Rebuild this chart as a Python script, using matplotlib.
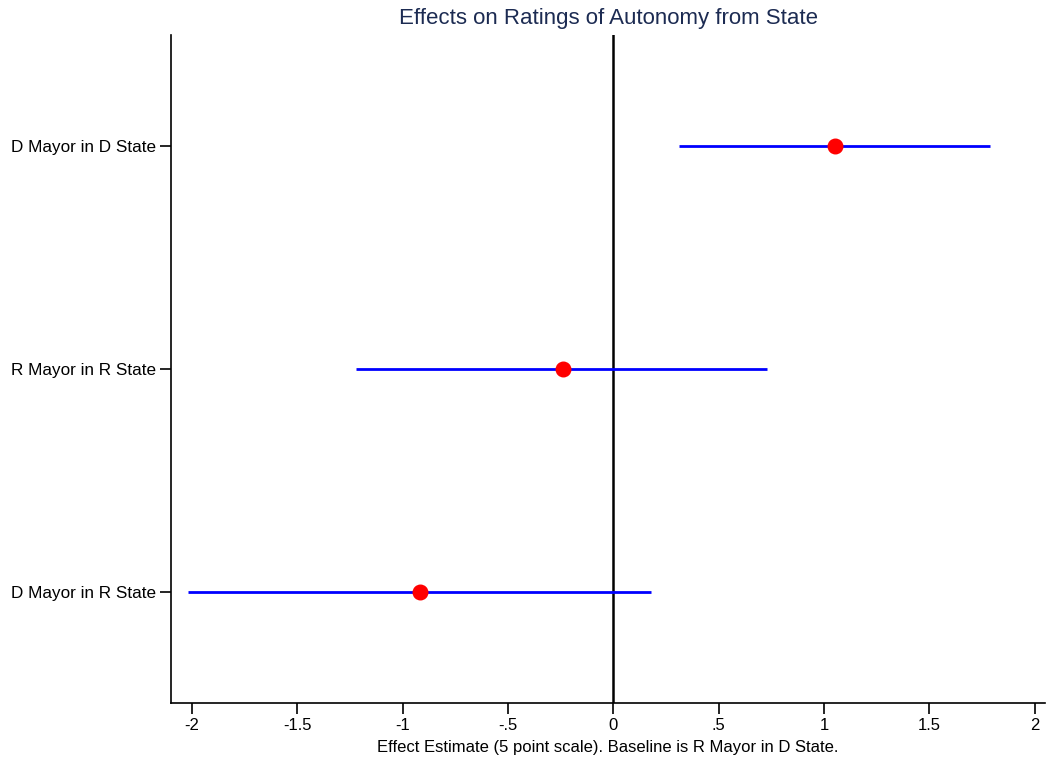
import matplotlib
matplotlib.use("Agg")
import matplotlib.pyplot as plt

plt.rcParams['font.family'] = ['Liberation Sans', 'DejaVu Sans']

# data
labels = ["D Mayor in R State", "R Mayor in R State", "D Mayor in D State"]
estimates = [-0.92, -0.24, 1.05]
ci_low = [-2.02, -1.22, 0.31]
ci_high = [0.18, 0.73, 1.79]

xticks = [-2, -1.5, -1, -0.5, 0, 0.5, 1, 1.5, 2]
xticklabels = ["-2", "-1.5", "-1", "-.5", "0", ".5", "1", "1.5", "2"]

fig = plt.figure(figsize=(10.47, 7.6), dpi=100)
ax = fig.add_axes([0.1633, 0.075, 0.835, 0.879])

ypos = list(range(1, len(labels) + 1))
ax.hlines(ypos, ci_low, ci_high, color='#0000ff', linewidth=2, zorder=2)
ax.scatter(estimates, ypos, s=110, color='#ff0000', zorder=3)
ax.axvline(0, color='black', linewidth=1.8, zorder=1)

ax.set_xlim(-2.1, 2.05)
ax.set_ylim(0.5, 3.5)
ax.set_yticks(ypos)
ax.set_yticklabels(labels, fontsize=12.3)
ax.set_xticks(xticks)
ax.set_xticklabels(xticklabels, fontsize=12)
ax.tick_params(axis='both', length=8, width=1.2, color='black')
ax.tick_params(axis='y', pad=3)
ax.tick_params(axis='x', pad=3)

ax.spines['top'].set_visible(False)
ax.spines['right'].set_visible(False)
ax.spines['left'].set_linewidth(1.2)
ax.spines['bottom'].set_linewidth(1.2)

ax.set_xlabel("Effect Estimate (5 point scale). Baseline is R Mayor in D State.",
              fontsize=12, labelpad=5)
ax.set_title("Effects on Ratings of Autonomy from State", fontsize=16,
             color='#1c2b52', pad=8)

fig.savefig("out.png", dpi=100)
